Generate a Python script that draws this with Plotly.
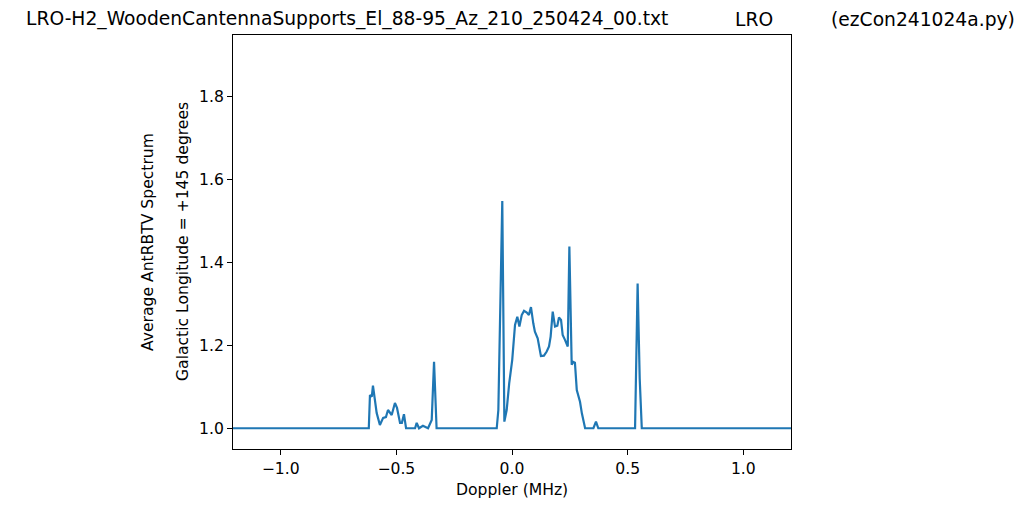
import plotly.graph_objects as go

doppler_mhz = [
    -1.206, -0.619, -0.614, -0.606, -0.601, -0.585, -0.571, -0.557, -0.545, -0.536,
    -0.520, -0.506, -0.497, -0.484, -0.476, -0.467, -0.458, -0.419, -0.412, -0.402,
    -0.385, -0.363, -0.347, -0.337, -0.326,
    -0.066, -0.059, -0.042, -0.033, -0.023, -0.012, 0.001, 0.013, 0.023, 0.032,
    0.042, 0.052, 0.064, 0.073, 0.082, 0.092, 0.099, 0.111, 0.125, 0.138,
    0.150, 0.160, 0.167, 0.176, 0.186, 0.196, 0.203, 0.212, 0.219, 0.229,
    0.241, 0.248, 0.258, 0.265, 0.272, 0.280, 0.287, 0.294, 0.302, 0.316,
    0.352, 0.363, 0.373, 0.532, 0.543, 0.552, 0.561, 1.206,
]
spectrum = [
    1.000, 1.000, 1.080, 1.076, 1.103, 1.037, 1.008, 1.025, 1.027, 1.044,
    1.032, 1.061, 1.049, 1.013, 1.013, 1.034, 1.000, 1.000, 1.013, 1.000,
    1.006, 1.000, 1.020, 1.160, 1.000,
    1.000, 1.044, 1.548, 1.016, 1.044, 1.109, 1.165, 1.249, 1.269, 1.245,
    1.273, 1.283, 1.279, 1.273, 1.292, 1.253, 1.233, 1.217, 1.174, 1.175,
    1.185, 1.197, 1.221, 1.281, 1.245, 1.247, 1.267, 1.261, 1.225, 1.213,
    1.197, 1.438, 1.153, 1.160, 1.158, 1.092, 1.078, 1.064, 1.036, 1.000,
    1.000, 1.016, 1.000, 1.000, 1.349, 1.120, 1.000, 1.000,
]

x_tick_vals = [-1.0, -0.5, 0.0, 0.5, 1.0]
x_tick_text = ["\u22121.0", "\u22120.5", "0.0", "0.5", "1.0"]
y_tick_vals = [1.0, 1.2, 1.4, 1.6, 1.8]
y_tick_text = ["1.0", "1.2", "1.4", "1.6", "1.8"]

title_parts = ["LRO-H2_WoodenCantennaSupports_El_88-95_Az_210_250424_00.txt", "LRO", "(ezCon241024a.py)"]
x_label = "Doppler (MHz)"
y_label_lines = ["Average AntRBTV Spectrum", "Galactic Longitude = +145 degrees"]

FONT = "DejaVu Sans"
OFF = 8  # default page body margin
W, H = 1024 - OFF, 509 - OFF
L, R, T, B = 233 - OFF, 791 - OFF, 35 - OFF, 449 - OFF

def px_x(p):
    return (p - OFF - L) / (R - L)

def px_y(p):
    return (B - (p - OFF)) / (B - T)

AX_FS = 15.6
TITLE_FS = 18.7

fig = go.Figure()
fig.add_trace(go.Scatter(x=doppler_mhz, y=spectrum, mode="lines",
                         line=dict(color="#1f77b4", width=2.2), showlegend=False,
                         hoverinfo="skip"))

axis_common = dict(showline=True, mirror=True, linecolor="black", linewidth=1,
                   showgrid=False, zeroline=False, ticks="outside", ticklen=5,
                   tickwidth=1, tickcolor="black",
                   tickfont=dict(family=FONT, size=AX_FS, color="black"))

fig.update_xaxes(range=[-1.206, 1.206], tickvals=x_tick_vals, ticktext=x_tick_text,
                 **axis_common)
fig.update_yaxes(range=[0.950, 1.948], tickvals=y_tick_vals, ticktext=y_tick_text,
                 **axis_common)

annotations = []
title_lefts = [24, 733, 829]
for txt, left in zip(title_parts, title_lefts):
    annotations.append(dict(text=txt, x=px_x(left), y=px_y(19), xref="paper", yref="paper",
                            xanchor="left", yanchor="middle", showarrow=False,
                            font=dict(family=FONT, size=TITLE_FS, color="black")))
annotations.append(dict(text=x_label, x=0.5, y=px_y(490), xref="paper", yref="paper",
                        xanchor="center", yanchor="middle", showarrow=False,
                        font=dict(family=FONT, size=AX_FS, color="black")))
for txt, cx in zip(y_label_lines, [148, 183]):
    annotations.append(dict(text=txt, x=px_x(cx), y=px_y(242), xref="paper", yref="paper",
                            xanchor="center", yanchor="middle", showarrow=False, textangle=-90,
                            font=dict(family=FONT, size=AX_FS, color="black")))

fig.update_layout(width=W, height=H, margin=dict(l=L, r=W - R, t=T, b=H - B, pad=0),
                  plot_bgcolor="white", paper_bgcolor="white",
                  font=dict(family=FONT, color="black"), annotations=annotations)

fig.write_html("out.html")
